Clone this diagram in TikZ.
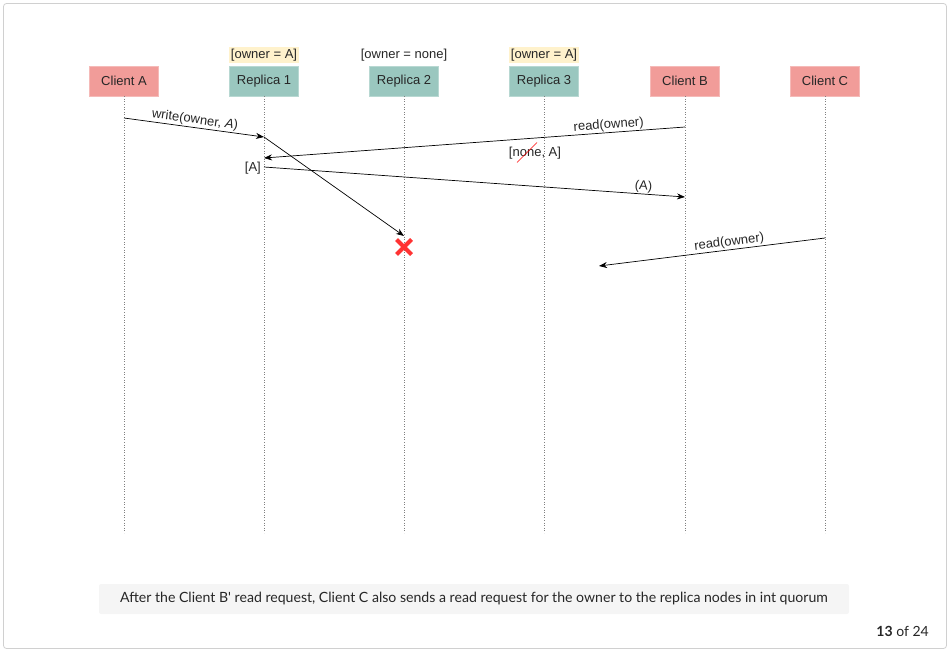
\documentclass[tikz,border=0pt]{standalone}
\usepackage{fontspec}
\setmainfont{Liberation Sans}
\newfontfamily\captionfont{Lato}
\usetikzlibrary{arrows.meta}
\definecolor{clientred}{HTML}{F19C99}
\definecolor{replicateal}{HTML}{9AC7BF}
\definecolor{noteyellow}{HTML}{FFF2CC}
\definecolor{capgray}{HTML}{F5F5F5}
\definecolor{framegray}{HTML}{D0D0D0}
\definecolor{xred}{HTML}{FF3333}
\tikzset{
  actor/.style={minimum width=69pt, minimum height=30pt, inner sep=0pt, font=\fontsize{13}{15}\selectfont, text=black!85},
  client/.style={actor, fill=clientred, draw=clientred!70!white},
  replica/.style={actor, fill=replicateal, draw=replicateal!70!white},
  state/.style={inner sep=1.5pt, font=\fontsize{13}{15}\selectfont, text=black!85},
  lifeline/.style={draw=black!50, dotted, line width=0.6pt},
  msg/.style={-{Stealth[length=8pt,width=6pt]}, line width=0.7pt},
  lbl/.style={font=\fontsize{13}{15}\selectfont, text=black!85, inner sep=1pt},
}
\begin{document}
\begin{tikzpicture}[x=1pt,y=-1pt]
\useasboundingbox (0,0) rectangle (951,653);
\draw[framegray, line width=0.8pt, rounded corners=3pt] (3.5,3.5) rectangle (946.5,648.5);

% actors
\node[client]  (ca) at (124,81) {Client A};
\node[replica] (r1) at (264,81) {Replica 1};
\node[replica] (r2) at (404,81) {Replica 2};
\node[replica] (r3) at (544,81) {Replica 3};
\node[client]  (cb) at (685,81) {Client B};
\node[client]  (cc) at (825,81) {Client C};

% states
\node[state, fill=noteyellow, minimum width=66pt] (s1) at (264,55) {[owner = A]};
\node[state] (s2) at (404,55) {[owner = none]};
\node[state, fill=noteyellow, minimum width=66pt] (s3) at (544,55) {[owner = A]};

% lifeline ends
\coordinate (caE) at (124,533);
\coordinate (r1E) at (264,533);
\coordinate (r2E) at (404,533);
\coordinate (r3E) at (544,533);
\coordinate (cbE) at (685,533);
\coordinate (ccE) at (825,533);
\draw[lifeline] (ca.south) -- (caE);
\draw[lifeline] (r1.south) -- (r1E);
\draw[lifeline] (r2.south) -- (r2E);
\draw[lifeline] (r3.south) -- (r3E);
\draw[lifeline] (cb.south) -- (cbE);
\draw[lifeline] (cc.south) -- (ccE);

% message points
\coordinate (m1a) at (124,118);
\coordinate (m1b) at (264,137);
\coordinate (m2b) at (404,236);
\coordinate (m3a) at (685,127);
\coordinate (m3b) at (264,158);
\coordinate (m4a) at (264,167);
\coordinate (m4b) at (685,197);
\coordinate (m5a) at (825,238);
\coordinate (m5b) at (599,266);

\draw[msg] (m1a) -- node[lbl, pos=0.5, above, sloped] {write(owner, \textit{A})} (m1b);
\draw[msg] (m1b) -- (m2b);
\draw[msg] (m3a) -- node[lbl, pos=0.18, above, sloped] {read(owner)} (m3b);
\draw[msg] (m4a) -- node[lbl, pos=0.9, above, sloped] {(A)} (m4b);
\draw[msg] (m5a) -- node[lbl, pos=0.42, above, sloped] {read(owner)} (m5b);

\node[lbl, anchor=east] (ra) at (262,168) {[A]};
\node[lbl] (nona) at (535,153) {[none, A]};
\coordinate (stA) at (517,162.5);
\coordinate (stB) at (537,142.5);
\draw[red, line width=0.5pt] (stA) -- (stB);

% red cross
\coordinate (xc) at (404,247);
\draw[xred, line width=4pt] ([shift={(-7.5,-7.5)}]xc) -- ([shift={(7.5,7.5)}]xc);
\draw[xred, line width=4pt] ([shift={(-7.5,7.5)}]xc) -- ([shift={(7.5,-7.5)}]xc);

% caption
\node[fill=capgray, rounded corners=2pt, minimum width=750pt, minimum height=30pt, inner sep=0pt,
      font=\captionfont\fontsize{14.1}{17}\selectfont, text=black!85] (cap) at (474,599)
  {After the Client B' read request, Client C also sends a read request for the owner to the replica nodes in int quorum};
\node[anchor=east, inner sep=0pt, font=\captionfont\fontsize{14}{16}\selectfont, text=black!85] (pg) at (929,631)
  {\textbf{13} of 24};
\end{tikzpicture}
\end{document}
